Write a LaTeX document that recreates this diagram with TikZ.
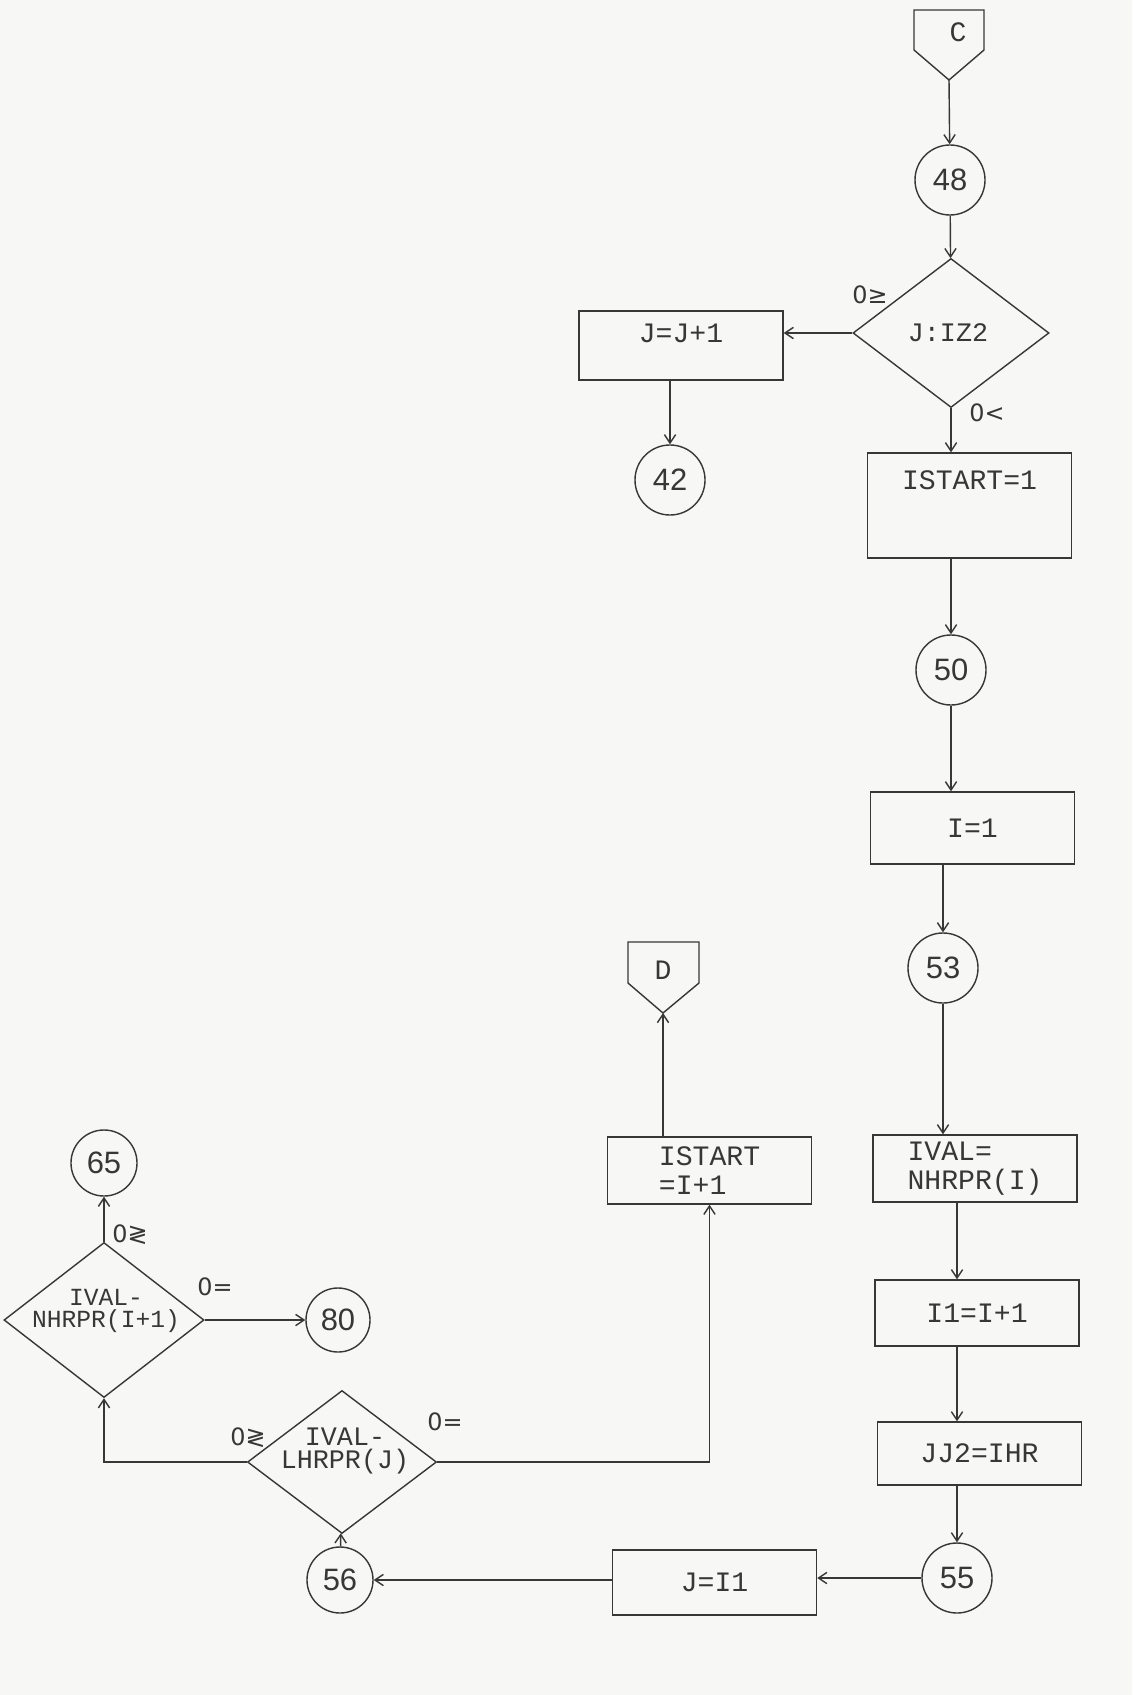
\documentclass[tikz,border=0pt]{standalone}
\usepackage{fontspec}
\setmainfont{Liberation Sans}
\setmonofont{Liberation Mono}
\newfontfamily\symfont{DejaVu Sans}
\usetikzlibrary{shapes.geometric, arrows.meta, positioning, calc}

\definecolor{ink}{RGB}{55,55,55}
\definecolor{paper}{RGB}{247,247,245}

\tikzset{
  box/.style={draw=ink, rectangle, minimum width=5.1cm, inner sep=0pt, font=\ttfamily\fontsize{20}{21}\selectfont, text=ink, align=left},
  conn/.style={draw=ink, circle, minimum size=1.75cm, inner sep=0pt, font=\fontsize{22}{26}\selectfont, text=ink},
  decide/.style={draw=ink, diamond, inner sep=0pt},
  dtext/.style={font=\ttfamily\fontsize{19}{17}\selectfont, text=ink, align=center},
  branch/.style={font=\symfont\fontsize{17}{20}\selectfont, text=ink},
  flow/.style={draw=ink, ->},
}

\begin{document}
\begin{tikzpicture}[x=0.025cm, y=-0.025cm, line width=1pt, >={Straight Barb[length=6pt,width=8pt]}]
\fill[paper] (0,0) rectangle (1132,1695);
\useasboundingbox (0,0) rectangle (1132,1695);

% off-page connectors
\node[font=\ttfamily\fontsize{20}{24}\selectfont, text=ink] (cC) at (958,32) {C};
\draw[ink] (914,10) -- (984,10) -- (984,50) -- (949,80) coordinate (Ctip) -- (914,50) -- cycle;
\node[font=\ttfamily\fontsize{20}{24}\selectfont, text=ink] (cD) at (663,970) {D};
\draw[ink] (628,942) -- (699,942) -- (699,983) -- (663,1013) coordinate (Dtip) -- (628,983) -- cycle;

% right column
\node[conn] (c48) at (950,180) {48};
\node[decide, minimum width=4.9cm, minimum height=3.725cm] (d1) at (951,333) {};
\node[dtext] (d1t) at (948,333) {J:IZ2};
\node[box, minimum height=1.725cm, text depth=0.6cm] (b1) at (681,345.5) {J=J+1};
\node[conn] (c42) at (670,480) {42};
\node[box, minimum height=2.625cm, text depth=1.25cm] (b2) at (969.5,505.5) {ISTART=1};
\node[conn] (c50) at (951,670) {50};
\node[box, minimum height=1.8cm] (b3) at (972.5,828) {I=1};
\node[conn] (c53) at (943,968) {53};
\node[box, minimum height=1.675cm] (b5) at (975,1168.5) {IVAL=\\NHRPR(I)};
\node[box, minimum height=1.65cm] (b6) at (977,1313) {I1=I+1};
\node[box, minimum height=1.575cm] (b7) at (979.5,1453.5) {JJ2=IHR};
\node[conn] (c55) at (957,1578) {55};

% bottom left
\node[box, minimum height=1.625cm] (b8) at (714.5,1582.5) {J=I1};
\node[conn, minimum size=1.65cm] (c56) at (340,1580) {56};
\node[decide, minimum width=4.725cm, minimum height=3.575cm] (d3) at (342,1462) {};
\node[dtext] (d3t) at (345,1451) {IVAL-\\LHRPR(J)};
\node[box, minimum height=1.675cm] (b4) at (709.5,1170.5) {ISTART\\=I+1};
\node[decide, minimum width=5cm, minimum height=3.875cm] (d2) at (104,1320) {};
\node[dtext, font=\ttfamily\fontsize{17.5}{16}\selectfont] (d2t) at (106,1311) {IVAL-\\NHRPR(I+1)};
\node[conn, minimum size=1.65cm] (c65) at (104,1163) {65};
\node[conn, minimum size=1.6cm] (c80) at (338,1320) {80};

% branch labels
\node[branch] (l1) at (870,295) {0≥};
\node[branch] (l2) at (987,413) {0<};
\node[branch] (l3) at (130,1235) {0≷};
\node[branch] (l4) at (215,1287) {0=};
\node[branch] (l5) at (248,1438) {0≷};
\node[branch] (l6) at (445,1422) {0=};

% flow lines
\draw[flow] (Ctip) -- (c48);
\draw[flow] (c48) -- (d1);
\draw[flow] (d1.west) -- (d1.west -| b1.east);
\draw[flow] (b1.south -| c42) -- (c42);
\draw[flow] (d1.south) -- (d1.south |- b2.north);
\draw[flow] (b2.south -| c50) -- (c50);
\draw[flow] (c50) -- (c50 |- b3.north);
\draw[flow] (b3.south -| c53) -- (c53);
\draw[flow] (c53) -- (c53 |- b5.north);
\draw[flow] (b5.south -| c55) -- (b6.north -| c55);
\draw[flow] (b6.south -| c55) -- (b7.north -| c55);
\draw[flow] (b7.south -| c55) -- (c55);
\draw[flow] (c55) -- (c55 -| b8.east);
\draw[flow] (b8.west |- c56) -- (c56);
\draw[flow] (c56) -- (d3);
\draw[flow] (d3.west) -| (d2.south);
\draw[flow] (d3.east) -| (b4.south);
\draw[flow] (b4.north -| Dtip) -- (Dtip);
\draw[flow] (d2) -- (c65);
\draw[flow] (d2.east) -- (c80);
\end{tikzpicture}
\end{document}
